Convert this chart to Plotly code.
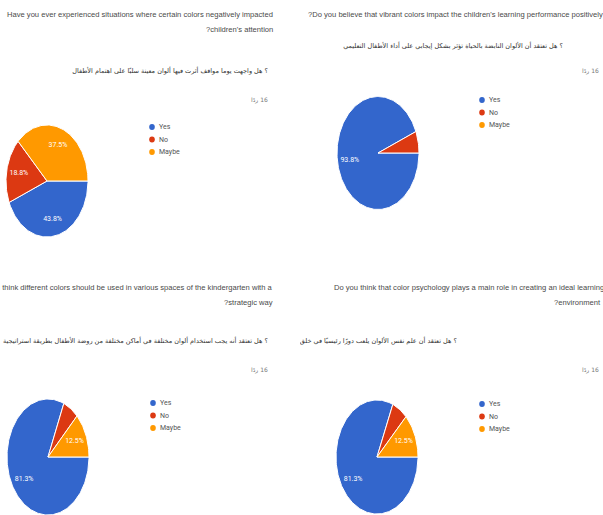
import math
import plotly.graph_objects as go

W, H = 603, 515

# ---- data (percent of 16 responses) ----
categories = ["Yes", "No", "Maybe"]
yes_pct = [43.8, 93.8, 81.3, 81.3]
no_pct = [18.8, 6.2, 6.2, 6.2]
maybe_pct = [37.5, 0.0, 12.5, 12.5]
slice_colors = ["#3366CC", "#DC3912", "#FF9900"]

titles_en = [
    ["Have you ever experienced situations where certain colors negatively impacted",
     "?children's attention"],
    ["?Do you believe that vibrant colors impact the children's learning performance positively"],
    ["Do you think different colors should be used in various spaces of the kindergarten with a",
     "?strategic way"],
    ["Do you think that color psychology plays a main role in creating an ideal learning",
     "?environment"],
]
LRM = "\u200e"
titles_ar = [
    "هل واجهت يوما مواقف أثرت فيها ألوان معينة سلبًا على اهتمام الأطفال" + LRM + " ؟",
    "هل تعتقد أن الألوان النابضة بالحياة تؤثر بشكل إيجابي على أداء الأطفال التعليمي" + LRM + " ؟",
    "هل تعتقد أنه يجب استخدام ألوان مختلفة في أماكن مختلفة من روضة الأطفال بطريقة استراتيجية" + LRM + " ؟",
    "هل تعتقد أن علم نفس الألوان يلعب دورًا رئيسيًا في خلق بيئة تعليمية مثالية" + LRM + " ؟",
]
responses_label = "\u200f16 ردًا"

# ---- layout positions (pixels) ----
pies = [(47, 181, 41, 56), (378, 153, 41, 56.5), (48, 457, 41, 58), (377, 457, 41, 57)]
legends = [(152, 127), (482, 100), (153, 403), (482, 404)]
title_pos = [((275, 15), (275, 30)), ((605, 15),), ((275, 287), (275, 302)), ((606, 287), (603, 302))]
ar_pos = [(268, 71), (563, 46), (268, 341), (457, 341)]
resp_pos = [(270, 100), (601, 71), (270, 370), (601, 370)]
RIGHT_COL_X = 300  # the right column is cropped at this x in the reference

TITLE_FONT = "Liberation Sans, Arial, sans-serif"
AR_FONT = "DejaVu Sans, Noto Sans, sans-serif"


def px(x):
    return x / W


def py(y):
    return 1 - y / H


fig = go.Figure()
annotations = []
shapes = []
layout_axes = {}

# overlay axes for the two cropped columns (pixel coordinates) used for text that is cut
layout_axes["xaxis5"] = dict(domain=[0, px(RIGHT_COL_X)], range=[0, RIGHT_COL_X],
                             visible=False, fixedrange=True)
layout_axes["yaxis5"] = dict(domain=[0, 1], range=[H, 0], visible=False, fixedrange=True)
layout_axes["xaxis6"] = dict(domain=[px(RIGHT_COL_X), 1], range=[RIGHT_COL_X, W],
                             visible=False, fixedrange=True)
layout_axes["yaxis6"] = dict(domain=[0, 1], range=[H, 0], visible=False, fixedrange=True)

for i in range(4):
    vals = [yes_pct[i], no_pct[i], maybe_pct[i]]
    total = sum(vals)
    cx, cy, rx, ry = pies[i]
    ax = "" if i == 0 else str(i + 1)
    layout_axes["xaxis" + ax] = dict(
        domain=[max(0, px(cx - rx)), min(1, px(cx + rx))], range=[-1, 1],
        visible=False, fixedrange=True)
    layout_axes["yaxis" + ax] = dict(
        domain=[max(0, py(cy + ry)), min(1, py(cy - ry))], range=[-1, 1],
        visible=False, fixedrange=True)
    if py(cy + ry) < 0:
        frac_visible = py(cy - ry) / (py(cy - ry) - py(cy + ry))
        layout_axes["yaxis" + ax]["range"] = [1 - 2 * frac_visible, 1]

    start = 0.0
    for k, v in enumerate(vals):
        if v <= 0:
            continue
        f = v / total
        n = max(3, int(240 * f))
        xs, ys = [0.0], [0.0]
        for j in range(n + 1):
            t = start + f * j / n
            a = -2 * math.pi * t
            xs.append(math.cos(a))
            ys.append(math.sin(a))
        xs.append(0.0)
        ys.append(0.0)
        fig.add_trace(go.Scatter(
            x=xs, y=ys, mode="lines", fill="toself",
            fillcolor=slice_colors[k], line=dict(color="white", width=1),
            xaxis="x" + ax, yaxis="y" + ax, hoverinfo="skip", showlegend=False,
            cliponaxis=False))
        if v >= 10:
            am = -2 * math.pi * (start + f / 2)
            fig.add_trace(go.Scatter(
                x=[0.7 * math.cos(am)], y=[0.7 * math.sin(am)], mode="text",
                text=[f"{v:.1f}%"], textfont=dict(color="white", size=7, family="Roboto"),
                xaxis="x" + ax, yaxis="y" + ax, hoverinfo="skip", showlegend=False))
        start += f

    # legend
    lx, ly = legends[i]
    for k, c in enumerate(categories):
        yy = ly + 12.5 * k
        shapes.append(dict(type="circle", xref="paper", yref="paper",
                           x0=px(lx - 2.8), x1=px(lx + 2.8), y0=py(yy + 3), y1=py(yy - 3),
                           fillcolor=slice_colors[k], line=dict(width=0)))
        annotations.append(dict(x=px(lx + 5), y=py(yy), xref="paper", yref="paper",
                                text=c, showarrow=False, xanchor="left", yanchor="middle",
                                font=dict(size=7, color="#555555", family="Roboto")))

    # titles
    for line, (tx, ty) in zip(titles_en[i], title_pos[i]):
        annotations.append(dict(x=px(tx), y=py(ty), xref="paper", yref="paper",
                                text=line, showarrow=False, xanchor="right", yanchor="middle",
                                font=dict(size=7.6, color="#4a4a4a", family=TITLE_FONT)))
    # Arabic question line, clipped to its column
    tx, ty = ar_pos[i]
    col_ax = "5" if i % 2 == 0 else "6"
    fig.add_trace(go.Scatter(
        x=[tx], y=[ty], mode="text", text=[titles_ar[i]], textposition="middle left",
        textfont=dict(size=6.5, color="#333333", family=AR_FONT),
        xaxis="x" + col_ax, yaxis="y" + col_ax, cliponaxis=True,
        hoverinfo="skip", showlegend=False))
    tx, ty = resp_pos[i]
    annotations.append(dict(x=px(tx), y=py(ty), xref="paper", yref="paper",
                            text=responses_label, showarrow=False, xanchor="right", yanchor="middle",
                            font=dict(size=6, color="#777777", family=AR_FONT)))

fig.update_layout(
    width=W, height=H, margin=dict(l=0, r=0, t=0, b=0),
    paper_bgcolor="white", plot_bgcolor="rgba(0,0,0,0)",
    showlegend=False, annotations=annotations, shapes=shapes,
    hovermode=False,
    **layout_axes,
)

fig.write_html("out.html", config={"displayModeBar": False, "staticPlot": True},
               post_script="document.body.style.margin='0';")
